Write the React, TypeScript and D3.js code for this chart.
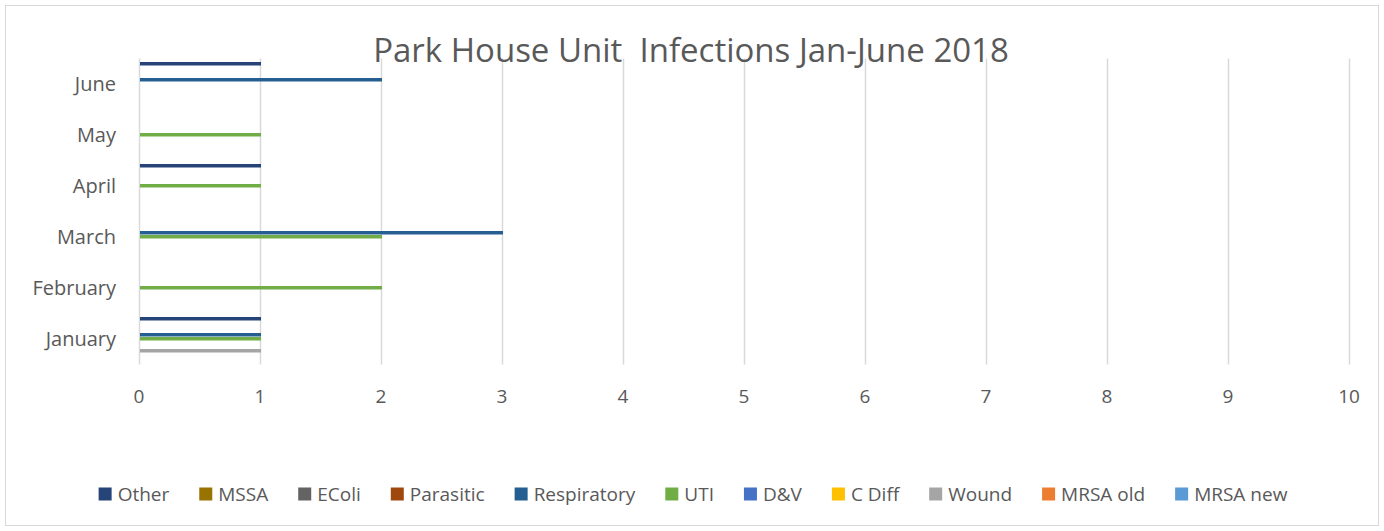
import React, {useEffect, useRef} from "react";
import * as d3 from "d3";

// categories (bottom to top as drawn)
const months = ["January", "February", "March", "April", "May", "June"];

// series in legend order
const seriesNames = [
	"Other",
	"MSSA",
	"EColi",
	"Parasitic",
	"Respiratory",
	"UTI",
	"D&V",
	"C Diff",
	"Wound",
	"MRSA old",
	"MRSA new",
];
const seriesColors = [
	"#264478",
	"#997300",
	"#636363",
	"#9E480E",
	"#255E91",
	"#70AD47",
	"#4472C4",
	"#FFC000",
	"#A5A5A5",
	"#ED7D31",
	"#5B9BD5",
];

// values per series, Jan..June
const other = [1, 0, 0, 1, 0, 1];
const mssa = [0, 0, 0, 0, 0, 0];
const ecoli = [0, 0, 0, 0, 0, 0];
const parasitic = [0, 0, 0, 0, 0, 0];
const respiratory = [1, 0, 3, 0, 0, 2];
const uti = [1, 2, 2, 1, 1, 0];
const dv = [0, 0, 0, 0, 0, 0];
const cdiff = [0, 0, 0, 0, 0, 0];
const wound = [1, 0, 0, 0, 0, 0];
const mrsaOld = [0, 0, 0, 0, 0, 0];
const mrsaNew = [0, 0, 0, 0, 0, 0];

const xTicks = [0, 1, 2, 3, 4, 5, 6, 7, 8, 9, 10];
const title = "Park House Unit  Infections Jan-June 2018";

const W = 1384;
const H = 531;
const FONT = "'Open Sans', 'Noto Sans', sans-serif";
const TEXT = "#595959";

const App: React.FC = () => {
	const svgRef = useRef<SVGSVGElement>(null);

	useEffect(() => {
		const svg = d3.select(svgRef.current);
		svg.selectAll("*").remove();

		const values = [other, mssa, ecoli, parasitic, respiratory, uti, dv, cdiff, wound, mrsaOld, mrsaNew];
		const series = seriesNames.map((name, i) => ({name, color: seriesColors[i], values: values[i]}));

		// chart border
		svg
			.append("rect")
			.attr("x", 5.5)
			.attr("y", 5.5)
			.attr("width", W - 11)
			.attr("height", H - 11)
			.attr("fill", "#fff")
			.attr("stroke", "#d9d9d9");

		const plot = {left: 139, right: 1349, top: 58.5, bottom: 364.5};

		const x = d3.scaleLinear().domain([0, 10]).range([plot.left, plot.right]);
		const y = d3
			.scaleBand<string>()
			.domain(months)
			.range([plot.bottom, plot.top])
			.paddingInner(0.137)
			.paddingOuter(0.0685);
		const ys = d3
			.scaleBand<string>()
			.domain(seriesNames)
			.range([0, y.bandwidth()]);

		// gridlines
		svg
			.append("g")
			.selectAll("line")
			.data(xTicks)
			.enter()
			.append("line")
			.attr("x1", (d) => Math.round(x(d)) + 0.5)
			.attr("x2", (d) => Math.round(x(d)) + 0.5)
			.attr("y1", plot.top)
			.attr("y2", plot.bottom)
			.attr("stroke", "#d9d9d9")
			.attr("stroke-width", 1.5);

		// x tick labels
		svg
			.append("g")
			.selectAll("text")
			.data(xTicks)
			.enter()
			.append("text")
			.attr("x", (d) => x(d))
			.attr("y", 403)
			.attr("text-anchor", "middle")
			.style("font-family", FONT)
			.style("font-size", "19px")
			.style("fill", TEXT)
			.text((d) => d);

		// category labels
		svg
			.append("g")
			.selectAll("text")
			.data(months)
			.enter()
			.append("text")
			.attr("x", 116)
			.attr("y", (d) => (y(d) as number) + y.bandwidth() / 2 + 7)
			.attr("text-anchor", "end")
			.style("font-family", FONT)
			.style("font-size", "20px")
			.style("fill", TEXT)
			.text((d) => d);

		// bars
		const groups = svg
			.append("g")
			.selectAll("g")
			.data(series)
			.enter()
			.append("g")
			.attr("fill", (d) => d.color);

		groups
			.selectAll("rect")
			.data((s) => s.values.map((v, i) => ({name: s.name, month: months[i], v})))
			.enter()
			.filter((d) => d.v > 0)
			.append("rect")
			.attr("x", x(0) + 1)
			.attr("y", (d) => (y(d.month) as number) + (ys(d.name) as number))
			.attr("width", (d) => x(d.v) - x(0))
			.attr("height", ys.bandwidth() - 0.5);

		// title
		svg
			.append("text")
			.attr("x", 691)
			.attr("y", 62)
			.attr("text-anchor", "middle")
			.style("font-family", FONT)
			.style("font-size", "33px")
			.style("white-space", "pre")
			.style("fill", TEXT)
			.text(title);

		// legend
		const legend = svg.append("g");
		let cx = 0;
		const gap = 30;
		series.forEach((s) => {
			const item = legend.append("g").attr("transform", `translate(${cx},0)`);
			item
				.append("rect")
				.attr("x", 0)
				.attr("y", -6.5)
				.attr("width", 13)
				.attr("height", 13)
				.attr("fill", s.color);
			const t = item
				.append("text")
				.attr("x", 19)
				.attr("y", 7)
				.style("font-family", FONT)
				.style("font-size", "19px")
				.style("fill", TEXT)
				.text(s.name);
			const w = (t.node() as SVGTextElement).getComputedTextLength();
			cx += 19 + w + gap;
		});
		const total = cx - gap;
		legend.attr("transform", `translate(${693 - total / 2},494)`);
	}, []);

	return (
		<div>
			<style>{`body{margin:0}`}</style>
			<svg ref={svgRef} width={W} height={H} style={{display: "block"}} />
		</div>
	);
};

export default App;
